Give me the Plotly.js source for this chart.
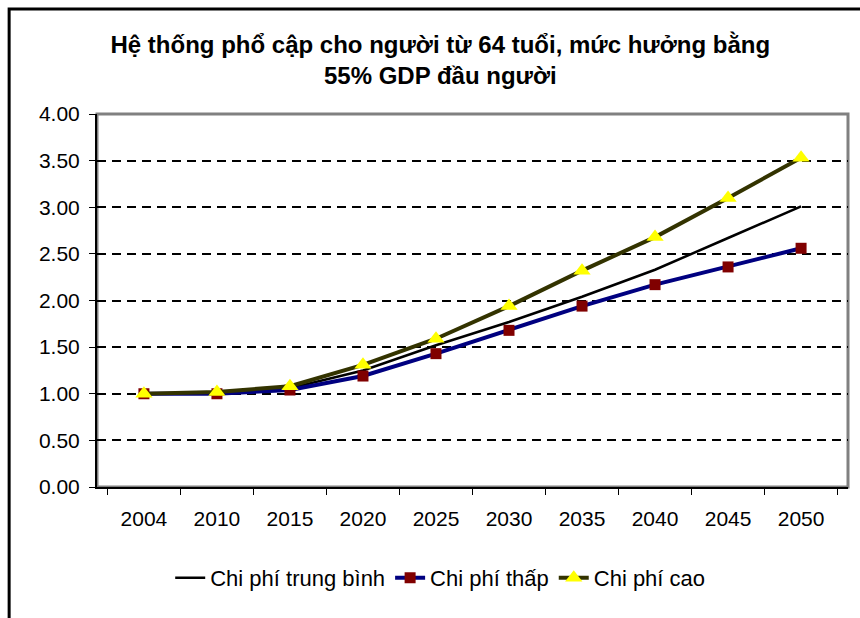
<!DOCTYPE html>
<html>
<head>
<meta charset="utf-8">
<script src="https://cdn.plot.ly/plotly-3.0.1.min.js"></script>
<style>
  body { margin: 0; background: #fff; }
  #chart { width: 860px; height: 618px; }
</style>
</head>
<body>
<div id="chart"></div>
<script>
var years = ["2004", "2010", "2015", "2020", "2025", "2030", "2035", "2040", "2045", "2050"];
var chiPhiTrungBinh = [1.00, 1.01, 1.06, 1.25, 1.52, 1.77, 2.04, 2.33, 2.67, 3.01];
var chiPhiThap = [1.00, 1.00, 1.04, 1.19, 1.43, 1.68, 1.94, 2.17, 2.36, 2.56];
var chiPhiCao = [1.00, 1.02, 1.08, 1.31, 1.59, 1.94, 2.32, 2.68, 3.10, 3.53];

var fontFamily = 'Liberation Sans, Arial, sans-serif';

var trace1 = {
  x: years,
  y: chiPhiTrungBinh,
  name: 'Chi phí trung bình',
  type: 'scatter',
  mode: 'lines',
  line: {color: '#000000', width: 2.5}
};

var trace2 = {
  x: years,
  y: chiPhiThap,
  name: 'Chi phí thấp',
  type: 'scatter',
  mode: 'lines+markers',
  line: {color: '#000080', width: 4},
  marker: {symbol: 'square', size: 11, color: '#800000'}
};

var trace3 = {
  x: years,
  y: chiPhiCao,
  name: 'Chi phí cao',
  type: 'scatter',
  mode: 'lines+markers',
  line: {color: '#333300', width: 4},
  marker: {symbol: 'triangle-up', size: 15, color: '#ffff00'}
};

var data = [trace1, trace2, trace3];

var layout = {
  width: 860,
  height: 618,
  margin: {l: 97, r: 12, t: 114, b: 131},
  paper_bgcolor: '#ffffff',
  plot_bgcolor: '#ffffff',
  font: {family: fontFamily, size: 20, color: '#000000'},
  title: {
    text: '<b>Hệ thống phổ cập cho người từ 64 tuổi, mức hưởng bằng<br>55% GDP đầu người</b>',
    font: {family: fontFamily, size: 24, color: '#000000'},
    x: 0.512,
    xanchor: 'center',
    y: 0.915,
    yanchor: 'middle'
  },
  xaxis: {
    type: 'category',
    showline: true,
    linecolor: '#000000',
    linewidth: 2,
    ticks: 'outside',
    tickson: 'boundaries',
    ticklen: 6,
    tickcolor: '#000000',
    ticklabelstandoff: 12,
    showgrid: false,
    tickfont: {size: 21},
    fixedrange: true
  },
  yaxis: {
    range: [0, 4],
    dtick: 0.5,
    tickformat: '.2f',
    showline: true,
    linecolor: '#000000',
    linewidth: 2,
    ticks: 'outside',
    ticklen: 6,
    tickcolor: '#000000',
    ticklabelstandoff: 5,
    showgrid: true,
    gridcolor: '#000000',
    gridwidth: 1.5,
    griddash: '9px,6px',
    zeroline: false,
    tickfont: {size: 21},
    fixedrange: true
  },
  showlegend: true,
  legend: {
    orientation: 'h',
    x: 0.457,
    xanchor: 'center',
    y: -0.244,
    yanchor: 'middle',
    font: {size: 22},
    traceorder: 'normal'
  },
  shapes: [
    {type: 'rect', xref: 'paper', yref: 'paper', x0: 0, x1: 1, y0: 0, y1: 1,
     line: {color: '#808080', width: 3}, layer: 'below'},
    {type: 'rect', xref: 'paper', yref: 'paper', x0: -0.117, x1: 1.03, y0: -0.4, y1: 1.2815,
     line: {color: '#000000', width: 3}, layer: 'below'}
  ]
};

var config = {responsive: false, displayModeBar: false};

Plotly.newPlot('chart', data, layout, config);
</script>
</body>
</html>
